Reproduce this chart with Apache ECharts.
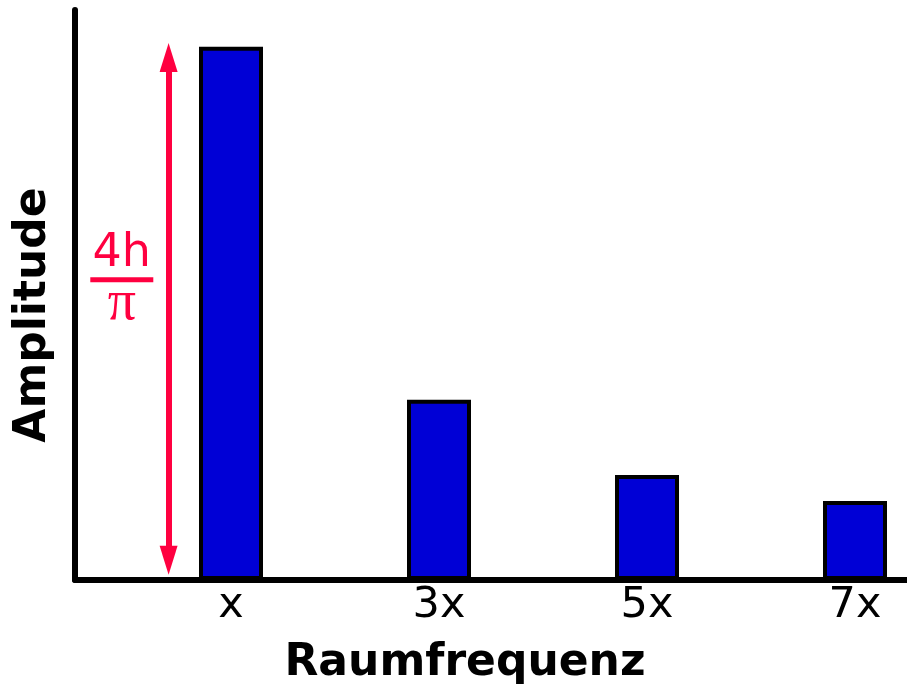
<!DOCTYPE html>
<html>
<head>
<meta charset="utf-8">
<script src="https://cdn.jsdelivr.net/npm/echarts@6/dist/echarts.min.js"></script>
<style>
  html, body { margin: 0; padding: 0; background: #fff; }
  #chart { width: 907px; height: 685px; }
</style>
</head>
<body>
<div id="chart"></div>
<script>
// harmonics on the frequency axis and their labels
const harmonics = [1, 3, 5, 7]
const tickLabels = ['x', '3x', '5x', '7x']
// amplitudes relative to 4h/pi
const amplitudes = [1, 0.338, 0.197, 0.148]
// where the 4h/pi arrow and its label sit (data coords)
const arrowX = 0.4
const arrowRange = [0.037, 0.98]
const fracPos = [-0.05, 0.565]

const red = '#ff0040'
const font = 'DejaVu Sans'

const chart = echarts.init(document.getElementById('chart'))

const option = {
  animation: false,
  grid: { left: 75, right: 0, top: 10, bottom: 105, outerBoundsMode: 'none' },
  xAxis: {
    type: 'value',
    min: -0.5,
    max: 7.5,
    name: 'Raumfrequenz',
    nameLocation: 'middle',
    nameGap: 62,
    nameTextStyle: { fontFamily: font, fontWeight: 'bold', fontSize: 44, color: '#000', padding: [0, 52, 0, 0] },
    axisLine: { lineStyle: { color: '#000', width: 6 } },
    axisTick: { show: false },
    splitLine: { show: false },
    axisLabel: {
      customValues: harmonics,
      formatter: v => tickLabels[harmonics.indexOf(v)] || '',
      fontFamily: font,
      fontSize: 43,
      lineHeight: 43,
      color: '#000',
      margin: 4
    }
  },
  yAxis: {
    type: 'value',
    min: 0,
    max: 1.069,
    name: 'Amplitude',
    nameLocation: 'middle',
    nameGap: 19,
    nameTextStyle: { fontFamily: font, fontWeight: 'bold', fontSize: 44, color: '#000', padding: [0, 40, 0, 0] },
    axisLine: { show: true, onZero: false, lineStyle: { color: '#000', width: 6, cap: 'round' } },
    axisTick: { show: false },
    axisLabel: { show: false },
    splitLine: { show: false }
  },
  series: [
    {
      type: 'bar',
      data: harmonics.map((h, i) => [h, amplitudes[i]]),
      barWidth: 64,
      itemStyle: { color: '#0000d6', borderColor: '#000', borderWidth: 4 },
      markLine: {
        silent: true,
        symbol: ['triangle', 'triangle'],
        symbolSize: [18, 29],
        label: { show: false },
        lineStyle: { color: red, width: 6, type: 'solid' },
        data: [[
          { coord: [arrowX, arrowRange[0]] },
          { coord: [arrowX, arrowRange[1]] }
        ]]
      }
    },
    {
      type: 'scatter',
      data: [fracPos],
      symbolSize: 0,
      silent: true,
      itemStyle: { opacity: 1, color: red },
      label: {
        show: true,
        position: 'inside',
        color: red,
        opacity: 1,
        textBorderWidth: 0,
        formatter: '{n|4h}\n{r| }\n{d|π}',
        rich: {
          n: { fontFamily: font, fontSize: 46, color: red, textBorderWidth: 0, lineHeight: 42, align: 'center' },
          r: { width: 63, height: 5, lineHeight: 10, backgroundColor: red, fontSize: 1 },
          d: { fontFamily: 'Liberation Serif', fontSize: 56, color: red, textBorderWidth: 0, lineHeight: 40, align: 'center' }
        }
      }
    }
  ]
}

chart.setOption(option)
window.addEventListener('resize', () => chart.resize())
</script>
</body>
</html>
